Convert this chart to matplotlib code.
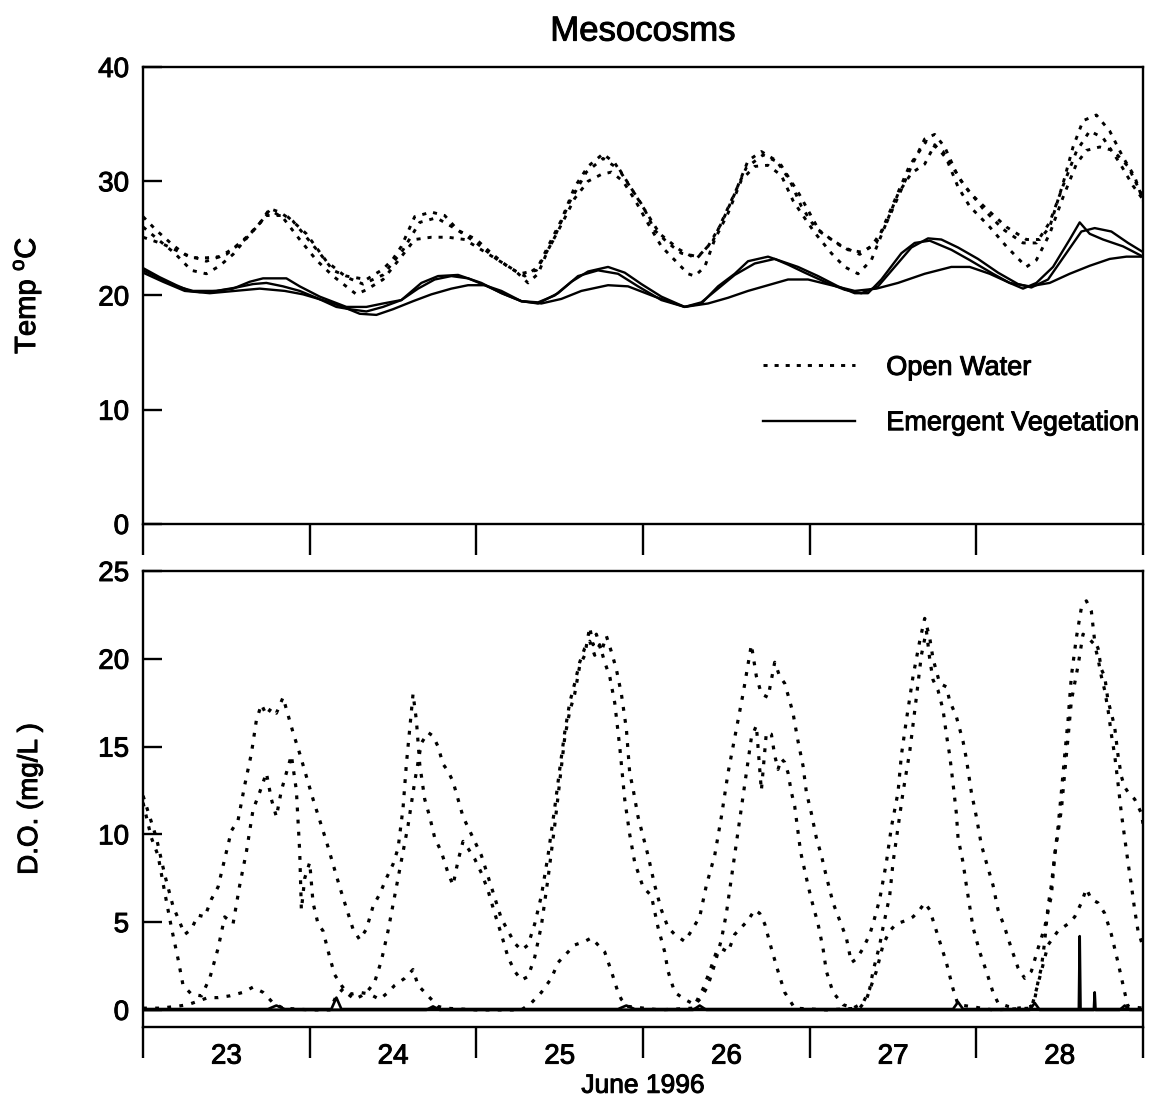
import matplotlib
matplotlib.use('Agg')
import matplotlib.pyplot as plt
import matplotlib.patheffects as pe
from matplotlib.text import Text
from matplotlib.ticker import FixedLocator, FixedFormatter, NullFormatter

plt.rcParams['font.family'] = ['Liberation Sans', 'DejaVu Sans']
plt.rcParams['mathtext.fontset'] = 'custom'
plt.rcParams['mathtext.rm'] = 'Liberation Sans'

# ---------------- data (t = days since 00:00 June 23, 1996) ----------------
day_labels = ['23', '24', '25', '26', '27', '28']

# Temperature, open water (dotted)
t_ow1 = [0, 0.08, 0.18, 0.28, 0.38, 0.46, 0.54, 0.62, 0.70, 0.76, 0.82, 0.90, 0.98, 1.06, 1.14, 1.22, 1.34,
         1.44, 1.50, 1.55, 1.63, 1.73, 1.81, 1.89, 2.00, 2.09, 2.19, 2.29, 2.37, 2.43, 2.51, 2.59, 2.67, 2.76,
         2.83, 2.91, 3.00, 3.07, 3.15, 3.23, 3.33, 3.39, 3.47, 3.55, 3.63, 3.71, 3.80, 3.88, 3.95, 4.03, 4.13,
         4.23, 4.31, 4.37, 4.45, 4.53, 4.61, 4.69, 4.75, 4.81, 4.89, 4.96, 5.06, 5.18, 5.30, 5.38, 5.44, 5.52,
         5.58, 5.64, 5.72, 5.80, 5.88, 5.95, 6.0]
temp_ow1 = [26.9, 25.7, 24.4, 23.3, 23.3, 23.4, 24.1, 25.1, 26.3, 27.6, 27.3, 26.5, 25.1, 23.7, 22.2, 21.7, 21.4,
            22.3, 23.2, 24.3, 26.9, 27.3, 27.0, 25.7, 24.9, 23.7, 22.5, 21.7, 22.5, 24.3, 26.6, 29.5, 31.3, 32.4,
            31.6, 29.8, 27.8, 25.7, 24.6, 23.7, 23.4, 24.3, 26.3, 28.9, 31.8, 32.6, 31.8, 30.1, 27.8, 26.0, 24.9,
            24.0, 23.8, 24.3, 26.0, 28.6, 31.3, 33.7, 34.1, 33.0, 30.4, 29.0, 27.6, 26.0, 24.9, 24.9, 26.0, 29.8,
            33.0, 35.3, 35.8, 34.4, 32.1, 30.4, 28.3]

t_ow2 = [0, 0.09, 0.19, 0.29, 0.38, 0.46, 0.54, 0.62, 0.70, 0.76, 0.84, 0.94, 1.04, 1.14, 1.28, 1.34, 1.44,
         1.55, 1.63, 1.73, 1.83, 1.93, 2.03, 2.13, 2.23, 2.31, 2.37, 2.43, 2.51, 2.59, 2.67, 2.75, 2.81, 2.88,
         2.95, 3.03, 3.11, 3.19, 3.27, 3.31, 3.37, 3.43, 3.51, 3.59, 3.67, 3.75, 3.83, 3.90, 3.95, 4.03, 4.13,
         4.21, 4.29, 4.37, 4.45, 4.53, 4.61, 4.69, 4.75, 4.82, 4.89, 4.96, 5.08, 5.18, 5.30, 5.36, 5.44, 5.52,
         5.60, 5.66, 5.74, 5.82, 5.91, 6.0]
temp_ow2 = [26.0, 24.9, 23.7, 22.2, 21.9, 22.6, 23.6, 25.0, 26.3, 27.5, 26.8, 24.9, 23.1, 21.7, 20.1, 20.5, 21.4,
            23.4, 24.9, 25.1, 25.1, 24.9, 24.0, 23.1, 22.2, 21.1, 21.9, 24.0, 26.2, 28.5, 30.0, 30.6, 30.8, 30.0,
            28.4, 26.3, 24.3, 23.1, 21.9, 21.7, 22.5, 24.9, 27.2, 30.1, 31.3, 31.4, 30.5, 28.3, 27.2, 25.5, 23.7,
            22.5, 21.9, 23.1, 26.0, 28.9, 30.7, 31.5, 33.2, 32.0, 29.5, 27.8, 26.0, 24.3, 22.5, 23.1, 25.4, 28.6,
            31.5, 32.7, 33.0, 32.7, 31.3, 28.6]

t_ow3 = [0, 0.12, 0.25, 0.38, 0.50, 0.62, 0.74, 0.86, 0.98, 1.10, 1.22, 1.32, 1.44, 1.56, 1.66, 1.76, 1.88,
         2.00, 2.12, 2.26, 2.36, 2.46, 2.56, 2.66, 2.76, 2.86, 2.98, 3.10, 3.22, 3.32, 3.42, 3.52, 3.62, 3.72,
         3.82, 3.94, 4.06, 4.18, 4.30, 4.40, 4.50, 4.60, 4.70, 4.80, 4.92, 5.04, 5.16, 5.28, 5.36, 5.44, 5.52,
         5.60, 5.68, 5.76, 5.86, 5.94, 6.0]
temp_ow3 = [25.1, 24.5, 23.6, 23.0, 23.6, 25.0, 27.0, 27.0, 25.4, 23.0, 21.6, 21.0, 21.8, 24.0, 26.4, 26.8, 25.8,
            24.6, 23.2, 21.9, 22.2, 24.8, 28.2, 30.8, 32.0, 31.0, 28.2, 25.4, 24.0, 23.2, 24.8, 28.0, 31.2, 32.3,
            31.6, 28.8, 25.6, 24.4, 23.6, 24.6, 28.0, 31.4, 33.5, 32.6, 29.8, 27.6, 25.8, 24.6, 24.6, 26.4, 29.6,
            32.6, 34.4, 33.8, 31.6, 29.6, 28.4]

# Temperature, emergent vegetation (solid)
t_ev1 = [0, 0.10, 0.20, 0.28, 0.34, 0.44, 0.54, 0.64, 0.72, 0.86, 0.94, 1.06, 1.22, 1.34, 1.44, 1.55, 1.67,
         1.77, 1.89, 2.03, 2.15, 2.27, 2.37, 2.49, 2.61, 2.73, 2.85, 2.97, 3.11, 3.25, 3.35, 3.45, 3.55, 3.63,
         3.75, 3.83, 3.93, 4.05, 4.17, 4.27, 4.35, 4.43, 4.55, 4.63, 4.72, 4.85, 4.96, 5.10, 5.20, 5.28, 5.36,
         5.46, 5.56, 5.62, 5.68, 5.76, 5.88, 6.0]
temp_ev1 = [22.4, 21.6, 20.9, 20.4, 20.3, 20.4, 20.6, 21.2, 21.5, 21.5, 20.8, 19.9, 19.0, 19.0, 19.3, 19.6, 21.1,
            21.7, 21.8, 21.1, 20.2, 19.5, 19.3, 20.2, 21.7, 22.2, 21.9, 20.8, 19.6, 19.0, 19.3, 20.8, 21.9, 23.0,
            23.4, 23.0, 22.5, 21.7, 20.8, 20.2, 20.2, 21.4, 23.7, 24.6, 24.8, 24.0, 23.1, 21.9, 21.1, 20.6, 21.1,
            22.5, 24.9, 26.4, 25.4, 24.9, 24.3, 23.4]

t_ev2 = [0, 0.10, 0.20, 0.30, 0.44, 0.56, 0.66, 0.74, 0.84, 0.94, 1.04, 1.16, 1.24, 1.34, 1.44, 1.55, 1.65,
         1.75, 1.85, 1.95, 2.05, 2.17, 2.27, 2.37, 2.47, 2.57, 2.67, 2.79, 2.89, 2.99, 3.11, 3.25, 3.35, 3.45,
         3.55, 3.67, 3.79, 3.87, 3.97, 4.09, 4.21, 4.31, 4.41, 4.51, 4.61, 4.71, 4.79, 4.89, 5.01, 5.13, 5.25,
         5.33, 5.43, 5.53, 5.63, 5.71, 5.81, 5.91, 6.0]
temp_ev2 = [22.2, 21.5, 20.8, 20.4, 20.4, 20.7, 21.0, 21.1, 20.8, 20.4, 19.8, 19.0, 18.8, 18.6, 19.0, 19.6, 20.6,
            21.4, 21.7, 21.5, 20.9, 20.1, 19.5, 19.4, 20.0, 21.2, 22.1, 22.5, 22.0, 21.0, 19.9, 19.0, 19.4, 20.6,
            21.8, 22.8, 23.2, 22.7, 22.0, 21.2, 20.5, 20.2, 20.8, 22.5, 24.2, 25.0, 24.9, 24.2, 23.2, 22.0, 21.0,
            20.7, 21.4, 23.5, 25.6, 25.9, 25.6, 24.6, 23.8]

t_ev3 = [0, 0.12, 0.25, 0.40, 0.55, 0.70, 0.85, 0.96, 1.10, 1.20, 1.30, 1.40, 1.50, 1.62, 1.73, 1.85, 1.95,
         2.05, 2.15, 2.27, 2.39, 2.51, 2.63, 2.79, 2.91, 3.07, 3.25, 3.39, 3.51, 3.63, 3.75, 3.87, 3.99, 4.13,
         4.27, 4.40, 4.53, 4.69, 4.85, 4.96, 5.08, 5.20, 5.32, 5.44, 5.56, 5.68, 5.80, 5.90, 6.0]
temp_ev3 = [22.0, 21.2, 20.4, 20.2, 20.4, 20.6, 20.4, 20.1, 19.5, 19.0, 18.4, 18.3, 18.8, 19.5, 20.1, 20.6, 20.9,
            20.9, 20.4, 19.5, 19.3, 19.7, 20.4, 20.9, 20.8, 19.9, 19.0, 19.3, 19.8, 20.4, 20.9, 21.4, 21.4, 20.9,
            20.4, 20.6, 21.1, 21.9, 22.5, 22.5, 21.9, 21.1, 20.8, 21.1, 21.9, 22.6, 23.2, 23.4, 23.4]

# Dissolved oxygen, open water (dotted)
t_do_u = [0.00, 0.04, 0.08, 0.13, 0.18, 0.22, 0.25, 0.29, 0.33, 0.37, 0.41, 0.45, 0.49, 0.53, 0.57, 0.61, 0.65,
          0.68, 0.71, 0.74, 0.77, 0.80, 0.84, 0.87, 0.90, 0.94, 0.98, 1.02, 1.06, 1.10, 1.14, 1.18, 1.22, 1.26,
          1.30, 1.34, 1.38, 1.42, 1.46, 1.50, 1.53, 1.56, 1.58, 1.60, 1.62, 1.64, 1.66, 1.69, 1.72, 1.75, 1.79,
          1.83, 1.86, 1.89, 1.92, 1.95, 1.99, 2.03, 2.07, 2.11, 2.15, 2.19, 2.23, 2.27, 2.31, 2.35, 2.39, 2.43,
          2.47, 2.50, 2.53, 2.56, 2.59, 2.62, 2.65, 2.68, 2.70, 2.72, 2.75, 2.78, 2.81, 2.84, 2.87, 2.90, 2.92,
          2.94, 2.97, 3.00, 3.03, 3.07, 3.11, 3.15, 3.19, 3.25, 3.29, 3.34, 3.38, 3.43, 3.47, 3.51, 3.55, 3.60,
          3.65, 3.68, 3.71, 3.75, 3.79, 3.82, 3.85, 3.88, 3.90, 3.93, 3.96, 3.98, 4.01, 4.04, 4.07, 4.10, 4.14,
          4.18, 4.22, 4.25, 4.28, 4.32, 4.36, 4.38, 4.42, 4.46, 4.49, 4.53, 4.55, 4.58, 4.62, 4.66, 4.69, 4.72,
          4.74, 4.78, 4.82, 4.84, 4.88, 4.92, 4.94, 4.97, 5.00, 5.03, 5.06, 5.10, 5.13, 5.17, 5.21, 5.25, 5.29,
          5.33, 5.37, 5.41, 5.45, 5.47, 5.49, 5.51, 5.53, 5.55, 5.57, 5.60, 5.63, 5.66, 5.69, 5.71, 5.73, 5.75,
          5.77, 5.79, 5.81, 5.83, 5.85, 5.87, 5.89, 5.91, 5.95, 5.99, 6.00]
do_u = [12.2, 11.0, 9.8, 7.7, 5.9, 5.0, 4.3, 4.6, 5.4, 5.3, 6.3, 7.0, 8.6, 10.2, 10.8, 12.8, 14.6,
        16.5, 17.4, 16.8, 17.2, 16.9, 17.8, 16.8, 15.8, 14.6, 13.3, 12.0, 10.8, 9.6, 8.3, 7.0, 5.8, 4.6,
        4.0, 4.6, 5.9, 6.6, 7.5, 8.3, 9.2, 11.5, 14.0, 16.0, 18.0, 16.5, 14.0, 12.0, 11.0, 9.8, 9.0,
        7.8, 7.1, 8.5, 9.6, 9.2, 8.6, 7.8, 6.8, 5.5, 4.3, 3.0, 2.2, 1.7, 1.9, 3.0, 4.8, 7.5,
        10.5, 13.0, 15.5, 17.0, 18.0, 19.6, 20.2, 21.8, 20.8, 21.4, 20.4, 21.3, 20.4, 19.4, 18.0, 16.0, 13.5,
        12.6, 11.0, 9.9, 8.8, 7.1, 5.7, 4.7, 4.3, 3.9, 4.5, 5.3, 7.1, 8.8, 11.0, 13.5, 15.5, 18.0,
        20.8, 19.0, 18.0, 17.8, 19.8, 19.0, 18.6, 17.6, 16.9, 15.3, 13.9, 12.4, 11.2, 9.8, 8.8, 7.6, 6.1,
        5.1, 4.1, 2.7, 2.9, 3.5, 4.3, 4.9, 6.3, 8.4, 10.4, 12.4, 14.5, 16.5, 19.0, 21.0, 22.3, 21.2,
        20.0, 18.6, 18.4, 17.6, 16.7, 15.3, 14.3, 12.4, 11.0, 9.4, 8.4, 7.1, 5.7, 4.7, 3.5, 2.4, 1.8,
        2.2, 3.5, 4.7, 6.5, 8.8, 10.4, 12.4, 14.5, 16.5, 19.0, 21.2, 22.9, 23.3, 22.7, 21.0, 20.6, 19.4,
        19.0, 17.6, 16.9, 16.1, 14.5, 13.3, 12.7, 12.4, 12.0, 11.2, 10.6]

t_do_l = [0.00, 0.05, 0.09, 0.13, 0.17, 0.21, 0.24, 0.29, 0.35, 0.40, 0.45, 0.49, 0.54, 0.58, 0.62, 0.66, 0.70,
          0.74, 0.77, 0.80, 0.83, 0.86, 0.89, 0.92, 0.94, 0.95, 0.97, 1.00, 1.02, 1.05, 1.08, 1.12, 1.15, 1.19,
          1.23, 1.27, 1.31, 1.35, 1.39, 1.43, 1.47, 1.51, 1.55, 1.59, 1.63, 1.67, 1.71, 1.74, 1.77, 1.80, 1.83,
          1.86, 1.89, 1.92, 1.95, 1.99, 2.03, 2.07, 2.11, 2.15, 2.19, 2.23, 2.27, 2.31, 2.35, 2.39, 2.43, 2.47,
          2.50, 2.53, 2.56, 2.59, 2.62, 2.65, 2.68, 2.71, 2.74, 2.77, 2.80, 2.83, 2.86, 2.89, 2.92, 2.95, 3.00,
          3.05, 3.09, 3.13, 3.15, 3.19, 3.25, 3.31, 3.35, 3.39, 3.43, 3.47, 3.50, 3.53, 3.56, 3.59, 3.62, 3.65,
          3.68, 3.71, 3.74, 3.77, 3.79, 3.81, 3.83, 3.85, 3.87, 3.89, 3.91, 3.94, 3.95, 3.99, 4.01, 4.05, 4.08,
          4.10, 4.14, 4.20, 4.26, 4.32, 4.36, 4.38, 4.42, 4.44, 4.48, 4.50, 4.53, 4.56, 4.60, 4.64, 4.67, 4.70,
          4.72, 4.74, 4.77, 4.80, 4.82, 4.84, 4.86, 4.88, 4.89, 4.92, 4.94, 4.96, 4.98, 5.02, 5.06, 5.10, 5.13,
          5.19, 5.25, 5.33, 5.35, 5.37, 5.39, 5.41, 5.43, 5.45, 5.47, 5.51, 5.53, 5.55, 5.57, 5.61, 5.64, 5.67,
          5.71, 5.73, 5.75, 5.77, 5.79, 5.81, 5.83, 5.85, 5.87, 5.89, 5.91, 5.93, 5.95, 5.97, 6.00]
do_l = [11.8, 9.8, 8.8, 6.7, 4.7, 2.9, 1.4, 0.9, 0.8, 1.8, 3.5, 5.3, 4.9, 7.1, 9.0, 11.4, 12.4,
        13.5, 12.0, 11.0, 12.5, 13.5, 14.5, 12.5, 9.0, 5.7, 7.5, 8.4, 6.1, 4.9, 4.5, 3.0, 2.0, 1.4,
        0.9, 0.6, 0.8, 1.1, 1.6, 2.8, 4.5, 6.5, 8.5, 10.5, 13.0, 15.2, 15.8, 15.6, 15.0, 14.0, 13.6,
        13.0, 12.0, 11.0, 10.4, 9.6, 8.8, 7.6, 6.4, 5.2, 4.5, 3.8, 3.4, 3.7, 4.9, 6.5, 8.8, 11.5,
        13.7, 15.8, 17.5, 18.6, 19.8, 20.6, 21.0, 20.2, 20.8, 19.8, 19.0, 17.5, 15.0, 12.0, 10.0, 8.4, 7.0,
        6.5, 4.7, 3.3, 2.2, 1.0, 0.6, 0.3, 0.7, 1.4, 2.6, 4.0, 5.5, 7.5, 9.5, 11.5, 13.5, 15.5,
        16.2, 12.5, 15.8, 15.7, 14.5, 13.7, 14.3, 14.1, 13.5, 12.4, 11.6, 9.4, 8.8, 7.1, 6.3, 4.9, 3.5,
        2.2, 1.0, 0.3, 0.1, 0.4, 1.2, 2.2, 3.7, 4.7, 6.5, 8.4, 10.4, 12.4, 14.7, 17.8, 20.2, 21.6,
        20.0, 18.8, 18.2, 17.1, 15.7, 14.5, 12.9, 11.2, 9.8, 8.4, 7.1, 5.9, 4.7, 3.3, 2.2, 1.0, 0.4,
        0.2, 0.1, 0.2, 0.6, 1.6, 2.4, 3.9, 5.9, 7.1, 8.8, 11.4, 13.5, 15.5, 17.6, 19.6, 21.4, 21.2,
        20.8, 20.0, 19.0, 18.2, 17.1, 15.7, 14.5, 12.9, 11.2, 9.8, 8.4, 7.1, 5.7, 4.5, 3.6]

t_do_c = [0.00, 0.10, 0.20, 0.27, 0.33, 0.39, 0.45, 0.52, 0.60, 0.66, 0.72, 0.78, 0.84, 1.00, 1.12, 1.16, 1.20,
          1.25, 1.30, 1.36, 1.42, 1.47, 1.51, 1.57, 1.62, 1.65, 1.69, 1.73, 1.77, 1.81, 2.00, 2.27, 2.33, 2.39,
          2.45, 2.49, 2.53, 2.59, 2.65, 2.69, 2.73, 2.77, 2.81, 2.85, 2.87, 2.91, 3.10, 3.30, 3.36, 3.40, 3.44,
          3.47, 3.51, 3.55, 3.59, 3.63, 3.67, 3.70, 3.73, 3.77, 3.81, 3.85, 3.91, 4.10, 4.30, 4.34, 4.40, 4.44,
          4.48, 4.52, 4.58, 4.62, 4.66, 4.69, 4.72, 4.74, 4.78, 4.82, 4.86, 4.89, 5.10, 5.33, 5.39, 5.43, 5.49,
          5.55, 5.59, 5.63, 5.66, 5.69, 5.73, 5.77, 5.81, 5.85, 5.89, 5.91, 6.00]
do_c = [0.1, 0.1, 0.2, 0.3, 0.5, 0.7, 0.7, 0.8, 1.0, 1.3, 1.0, 0.4, 0.1, 0.0, 0.0, 0.8, 1.2,
        0.9, 1.0, 0.9, 0.6, 1.0, 1.4, 1.8, 2.3, 1.4, 1.0, 0.6, 0.2, 0.1, 0.0, 0.0, 0.4, 1.0,
        1.8, 2.7, 3.1, 3.7, 3.9, 4.1, 3.7, 3.3, 2.2, 1.0, 0.6, 0.2, 0.0, 0.1, 1.2, 2.2, 3.3,
        3.5, 3.3, 4.3, 4.7, 5.1, 5.7, 5.5, 4.9, 3.5, 2.2, 1.0, 0.1, 0.0, 0.1, 0.6, 2.2, 3.7,
        4.5, 4.9, 5.1, 5.3, 5.7, 6.1, 5.7, 5.1, 3.9, 2.7, 1.2, 0.3, 0.0, 0.1, 2.2, 3.7, 4.5,
        4.9, 5.3, 6.1, 6.9, 6.3, 6.1, 5.5, 4.3, 2.7, 1.0, 0.2, 0.1]

# Dissolved oxygen, emergent vegetation (solid)
t_do_e1 = [0.00, 0.75, 0.80, 0.85, 1.13, 1.16, 1.19, 2.85, 2.90, 2.95, 4.86, 4.89, 4.92, 5.615, 5.62, 5.625, 6.00]
do_e1 = [0.05, 0.05, 0.25, 0.05, 0.05, 0.7, 0.05, 0.05, 0.25, 0.05, 0.05, 0.45, 0.05, 0.05, 4.2, 0.05, 0.05]
t_do_e2 = [0.00, 3.30, 3.34, 3.38, 5.32, 5.35, 5.38, 5.705, 5.71, 5.715, 6.00]
do_e2 = [0.0, 0.0, 0.25, 0.0, 0.0, 0.4, 0.0, 0.0, 1.0, 0.0, 0.0]
t_do_e3 = [0.00, 1.70, 1.74, 1.78, 5.86, 5.89, 5.92, 6.00]
do_e3 = [0.0, 0.0, 0.2, 0.0, 0.0, 0.25, 0.0, 0.0]

# ---------------- figure ----------------
fig = plt.figure(figsize=(11.49, 11.04), dpi=100)
ax1 = fig.add_axes([0.1245, 0.5254, 0.8703, 0.4139])
ax2 = fig.add_axes([0.1245, 0.0698, 0.8703, 0.4130])

dotted = (0, (1.4, 2.4))
dotted_do = (0, (1.2, 2.6))
k = 'black'

h_ow, = ax1.plot(t_ow1, temp_ow1, color=k, lw=2.1, ls=dotted)
ax1.plot(t_ow2, temp_ow2, color=k, lw=2.1, ls=dotted)
ax1.plot(t_ow3, temp_ow3, color=k, lw=2.1, ls=dotted)
h_ev, = ax1.plot(t_ev1, temp_ev1, color=k, lw=1.7)
ax1.plot(t_ev2, temp_ev2, color=k, lw=1.7)
ax1.plot(t_ev3, temp_ev3, color=k, lw=1.7)

ax2.plot(t_do_u, do_u, color=k, lw=2.3, ls=dotted_do)
ax2.plot(t_do_l, do_l, color=k, lw=2.3, ls=dotted_do)
ax2.plot(t_do_c, do_c, color=k, lw=2.3, ls=dotted_do)
ax2.plot(t_do_e1, do_e1, color=k, lw=1.9)
ax2.plot(t_do_e2, do_e2, color=k, lw=1.9)
ax2.plot(t_do_e3, do_e3, color=k, lw=1.9)

n_days = len(day_labels)
for ax in (ax1, ax2):
    ax.set_xlim(0, n_days)
    for s in ax.spines.values():
        s.set_linewidth(1.7)
    ax.xaxis.set_major_locator(FixedLocator(list(range(n_days + 1))))
    ax.xaxis.set_major_formatter(NullFormatter())
    ax.tick_params(axis='x', which='major', direction='out', length=22, width=1.7)
    ax.tick_params(axis='y', which='major', direction='in', length=14, width=1.7,
                   labelsize=20, pad=10)

ax1.set_ylim(0, 40)
ax1.set_yticks([0, 10, 20, 30, 40])
ax2.set_ylim(-0.97, 25)
ax2.set_yticks([0, 5, 10, 15, 20, 25])

ax2.xaxis.set_minor_locator(FixedLocator([i + 0.5 for i in range(n_days)]))
ax2.xaxis.set_minor_formatter(FixedFormatter(day_labels))
ax2.tick_params(axis='x', which='minor', length=0, labelsize=20, pad=12)

ax1.set_title('Mesocosms', fontsize=25, pad=19)
ax1.set_ylabel(r'Temp $^{\mathrm{o}}$C', fontsize=21)
ax2.set_ylabel('D.O. (mg/L )', fontsize=20)
ax1.yaxis.set_label_coords(-0.100, 0.5)
ax2.yaxis.set_label_coords(-0.100, 0.5)
ax2.set_xlabel('June 1996', fontsize=19, labelpad=3)

ax1.legend([h_ow, h_ev], ['Open Water', 'Emergent Vegetation'], loc='upper left',
           bbox_to_anchor=(0.62, 0.37), frameon=False, fontsize=19.5, handlelength=3.4,
           handletextpad=1.15, labelspacing=1.08, borderpad=0, borderaxespad=0)

# slightly heavier text, like the scanned original
for txt in fig.findobj(Text):
    txt.set_path_effects([pe.withStroke(linewidth=0.7, foreground='black')])

fig.savefig('out.png', dpi=100)
